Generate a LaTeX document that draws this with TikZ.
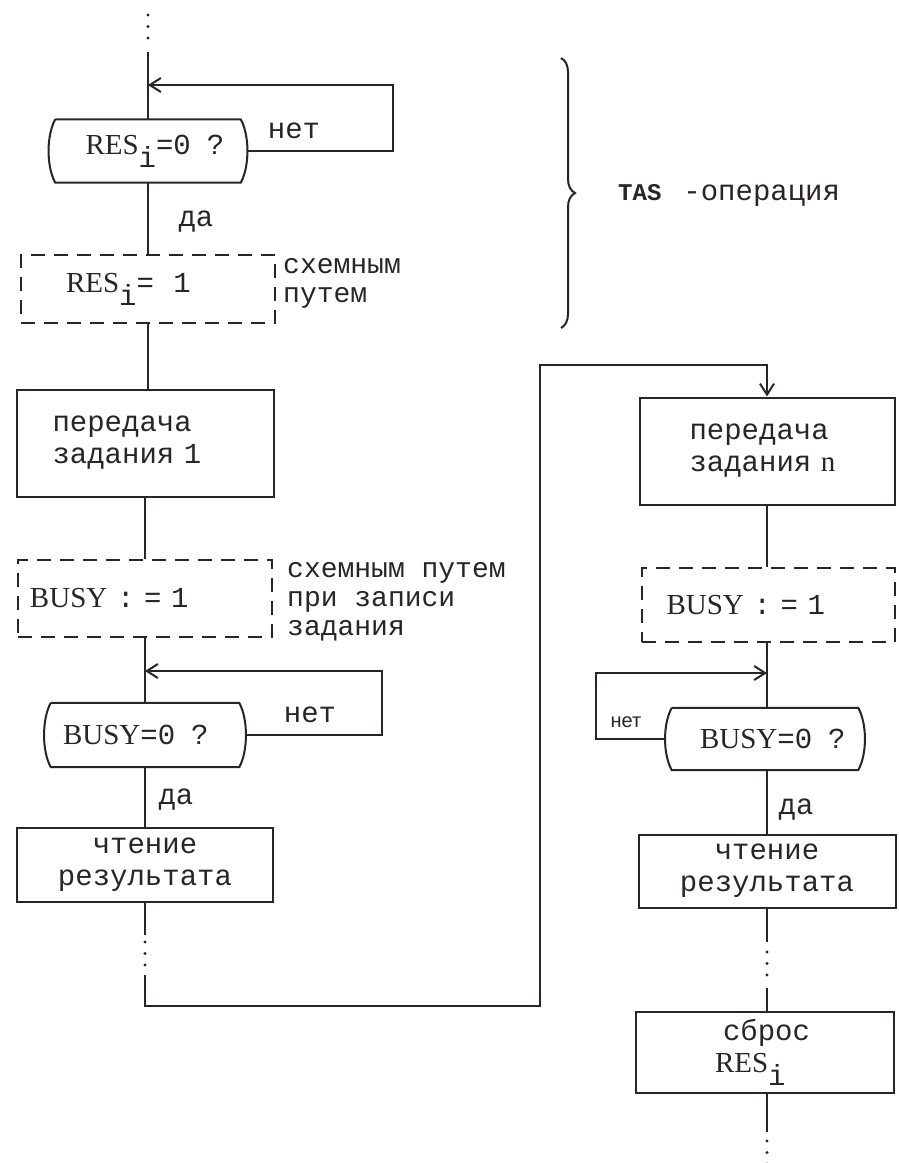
\documentclass[tikz,border=0pt]{standalone}
\usepackage{fontspec}
\setmainfont{Liberation Mono}
\newfontfamily\serifrm{Liberation Serif}
\newfontfamily\sansrm{Liberation Sans}
\usetikzlibrary{arrows.meta,decorations.pathreplacing}
\definecolor{ink}{RGB}{40,36,40}
\tikzset{
  ln/.style={draw=ink, line width=2pt},
  arr/.style={ln, -{Straight Barb[length=11pt,width=14pt,line width=2pt]}},
  procbox/.style={draw=ink, line width=2pt, rectangle, inner ysep=0pt, text=ink,
    font=\fontsize{29}{32}\selectfont},
  dashbox/.style={procbox, dash pattern=on 14pt off 9pt},
  decnode/.style={rectangle, inner ysep=0pt, text=ink, font=\fontsize{29}{32}\selectfont},
  lbl/.style={text=ink, inner sep=0pt, font=\fontsize{29}{29}\selectfont},
  dotsline/.style={draw=ink, line width=3.2pt, line cap=round, dash pattern=on 0pt off 11.5pt},
}
\newcommand{\resi}{{\serifrm RES}\raisebox{-13pt}{i}}
\newcommand{\busy}{{\serifrm BUSY}}
\begin{document}
\begin{tikzpicture}[x=1pt,y=-1pt]
\useasboundingbox (0,0) rectangle (899,1163);
\fill[white] (0,0) rectangle (899,1163);

% ---------- left column ----------
\coordinate (t1) at (148,15);
\coordinate (t2) at (148,39);
\coordinate (top) at (148,52);
\coordinate (j1) at (148,85);

\node[decnode, inner xsep=10pt, text width=165pt, minimum width=185pt, minimum height=63pt, align=left] (d1) at (148,151)
  {\hspace*{20pt}\resi=0\hspace{16pt}?};
\draw[ln] (d1.north west) -- (d1.north east)
  .. controls +(9,16) and +(9,-16) .. (d1.south east) -- (d1.south west)
  .. controls +(-9,-16) and +(-9,16) .. (d1.north west);

\node[dashbox, inner xsep=45pt, text width=164pt, minimum width=254pt, minimum height=68pt, align=left] (r1) at (148,289)
  {\resi= \ 1};

\node[procbox, inner xsep=36pt, text width=185pt, minimum width=257pt, minimum height=107pt, align=left] (b1) at (145,443)
  {передача\\задания 1};

\node[dashbox, inner xsep=12pt, text width=230pt, minimum width=254pt, minimum height=77pt, align=left] (r2) at (145,598)
  {\busy\ : = 1};

\coordinate (j2) at (145,671);

\node[decnode, inner xsep=12pt, text width=164pt, minimum width=188pt, minimum height=64pt, align=left] (d2) at (145,735)
  {\busy=0\hspace{16pt}?};
\draw[ln] (d2.north west) -- (d2.north east)
  .. controls +(9,16) and +(9,-16) .. (d2.south east) -- (d2.south west)
  .. controls +(-9,-16) and +(-9,16) .. (d2.north west);

\node[procbox, minimum width=256pt, minimum height=74pt, align=center] (b2) at (145,865)
  {чтение\\результата};

\coordinate (e1) at (145,935);
\coordinate (e1a) at (145,942);
\coordinate (e1b) at (145,966);
\coordinate (e2) at (145,975);
\coordinate (lk) at (540,1006);
\coordinate (lt) at (540,365);

% ---------- right column ----------
\node[procbox, inner xsep=50pt, text width=155pt, minimum width=255pt, minimum height=107pt, align=left] (b3) at (767,451)
  {передача\\задания {\serifrm n}};

\node[dashbox, inner xsep=25pt, text width=203pt, minimum width=253pt, minimum height=74pt, align=left] (r3) at (768,605)
  {\busy\ : = 1};

\coordinate (j3) at (767,673);

\node[decnode, inner xsep=10pt, text width=166pt, minimum width=186pt, minimum height=62pt, align=left] (d3) at (765,739)
  {\hspace*{18pt}\busy=0\hspace{16pt}?};
\draw[ln] (d3.north west) -- (d3.north east)
  .. controls +(9,16) and +(9,-16) .. (d3.south east) -- (d3.south west)
  .. controls +(-9,-16) and +(-9,16) .. (d3.north west);

\node[procbox, minimum width=257pt, minimum height=73pt, align=center] (b4) at (767,871)
  {чтение\\результата};

\coordinate (f1) at (767,942);
\coordinate (f1a) at (767,952);
\coordinate (f1b) at (767,977);
\coordinate (f2) at (767,988);

\node[procbox, inner xsep=79pt, text width=100pt, minimum width=258pt, minimum height=81pt, align=left] (b5) at (765,1052)
  {\hspace*{8pt}сброс\\\resi};

\coordinate (g1) at (767,1132);
\coordinate (g1a) at (767,1141);
\coordinate (g1b) at (767,1164);

% ---------- connectors ----------
\draw[dotsline] (t1) -- (t2);
\draw[ln] (top) -- (d1.north);
\draw[arr] ([xshift=7pt]d1.east) -- ++(145,0) |- (j1);
\draw[ln] (d1.south) -- (r1.north);
\draw[ln] (r1.south) -- (r1.south |- b1.north);
\draw[ln] (b1.south) -- (r2.north);
\draw[ln] (r2.south) -- (d2.north);
\draw[arr] ([xshift=7pt]d2.east) -- ++(136,0) |- (j2);
\draw[ln] (d2.south) -- (b2.north);
\draw[ln] (b2.south) -- (e1);
\draw[dotsline] (e1a) -- (e1b);
\draw[arr] (e2) |- (lk) -- (lt) -| (b3.north);

\draw[ln] (b3.south) -- (b3.south |- r3.north);
\draw[ln] (r3.south -| j3) -- (d3.north -| j3);
\draw[arr] ([xshift=-7pt]d3.west) -- ++(-69,0) |- (j3);
\draw[ln] (d3.south -| j3) -- (b4.north -| j3);
\draw[ln] (b4.south) -- (f1);
\draw[dotsline] (f1a) -- (f1b);
\draw[ln] (f2) -- (f2 |- b5.north);
\draw[ln] (b5.south -| g1) -- (g1);
\draw[dotsline] (g1a) -- (g1b);

% ---------- labels ----------
\node[lbl] (n1) at (294,131) {нет};
\node[lbl] (y1) at (196,222) {да};
\node[lbl, anchor=west, align=left, font=\fontsize{28}{29}\selectfont] (s1) at (283,283) {схемным\\путем};
\node[lbl, anchor=west, align=left, font=\fontsize{28}{29}\selectfont] (s2) at (287,602) {схемным путем\\при записи\\задания};
\node[lbl] (n2) at (310,715) {нет};
\node[lbl] (y2) at (176,800) {да};
\node[lbl, font=\sansrm\fontsize{20}{22}\selectfont] (n3) at (626,722) {нет};
\node[lbl] (y3) at (796,810) {да};

% ---------- brace ----------
\draw[ln, line width=2pt, decorate, decoration={brace, amplitude=14pt}] (561,58) -- (561,328);
\node[lbl, anchor=west] (tas) at (618,195) {{\bfseries\fontsize{24}{26}\selectfont TAS}\hspace{22pt}-операция};
\end{tikzpicture}
\end{document}
